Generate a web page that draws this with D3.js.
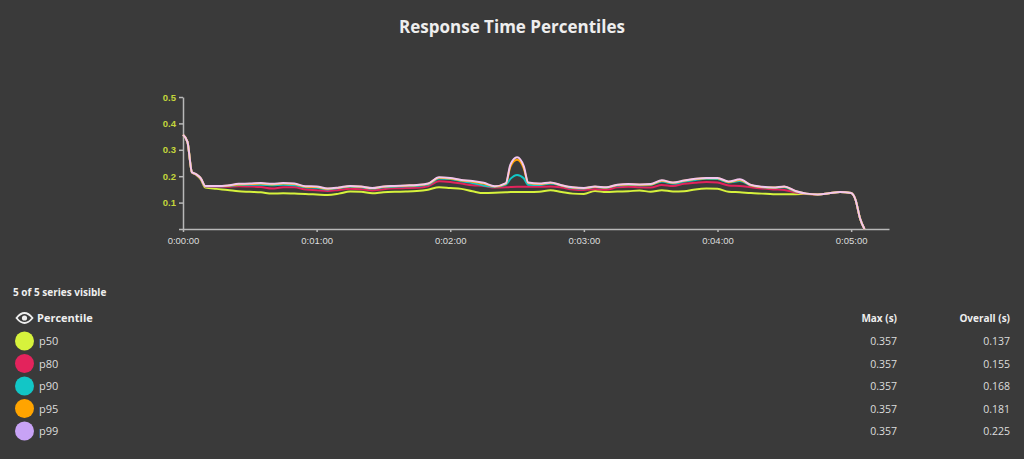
<!DOCTYPE html>
<html>
<head>
<meta charset="utf-8">
<script src="https://cdn.jsdelivr.net/npm/d3@7"></script>
<style>
  html, body { margin: 0; padding: 0; background: #3a3a3a; }
  svg { display: block; font-family: "Open Sans", "DejaVu Sans", sans-serif; }
</style>
</head>
<body>
<svg id="chart" width="1024" height="459"></svg>
<script>
// seconds since start
const times = [0, 2, 4, 6, 8, 10, 15, 20, 25, 30, 35, 40, 45, 50, 55, 60, 65, 70, 75, 80, 85, 90, 95, 100,
  105, 110, 115, 120, 125, 130, 135, 140, 145, 147, 150, 153, 155, 160, 165, 170, 175, 180, 185, 190, 195, 200,
  205, 210, 215, 220, 225, 230, 235, 240, 245, 250, 255, 260, 265, 270, 275, 280, 285, 290, 295, 300,
  302, 304, 306];

const p50 = [0.357, 0.33, 0.215, 0.205, 0.188, 0.157, 0.152, 0.148, 0.143, 0.141, 0.139, 0.134, 0.135, 0.134,
  0.133, 0.131, 0.129, 0.134, 0.142, 0.141, 0.135, 0.139, 0.141, 0.142, 0.144, 0.149, 0.158, 0.155, 0.152,
  0.143, 0.136, 0.137, 0.139, 0.140, 0.140, 0.140, 0.140, 0.141, 0.147, 0.140, 0.134, 0.133, 0.144, 0.140, 0.142, 0.143,
  0.146, 0.141, 0.147, 0.142, 0.143, 0.150, 0.153, 0.152, 0.141, 0.139, 0.136, 0.134, 0.132, 0.132, 0.132,
  0.133, 0.131, 0.135, 0.140, 0.136, 0.110, 0.040, 0.0];
const p80 = [0.357, 0.33, 0.215, 0.206, 0.191, 0.161, 0.160, 0.160, 0.162, 0.161, 0.159, 0.153, 0.158, 0.158,
  0.150, 0.147, 0.144, 0.148, 0.152, 0.151, 0.146, 0.151, 0.154, 0.155, 0.156, 0.162, 0.181, 0.178, 0.172,
  0.166, 0.163, 0.157, 0.158, 0.159, 0.160, 0.160, 0.160, 0.160, 0.161, 0.157, 0.150, 0.148, 0.151, 0.149, 0.158, 0.160,
  0.158, 0.157, 0.167, 0.163, 0.171, 0.175, 0.178, 0.176, 0.165, 0.163, 0.158, 0.153, 0.150, 0.148, 0.138,
  0.134, 0.131, 0.135, 0.140, 0.136, 0.110, 0.040, 0.0];
const p90 = [0.357, 0.33, 0.215, 0.207, 0.192, 0.162, 0.162, 0.163, 0.167, 0.168, 0.168, 0.166, 0.168, 0.166,
  0.158, 0.156, 0.150, 0.155, 0.160, 0.158, 0.153, 0.158, 0.160, 0.162, 0.163, 0.168, 0.191, 0.189, 0.181,
  0.174, 0.165, 0.160, 0.168, 0.190, 0.205, 0.192, 0.168, 0.167, 0.172, 0.164, 0.155, 0.153, 0.159, 0.156, 0.165, 0.167,
  0.166, 0.167, 0.180, 0.172, 0.180, 0.186, 0.190, 0.189, 0.176, 0.182, 0.165, 0.158, 0.156, 0.158, 0.142,
  0.134, 0.131, 0.135, 0.140, 0.136, 0.110, 0.040, 0.0];
const p95 = [0.357, 0.33, 0.215, 0.207, 0.192, 0.163, 0.163, 0.164, 0.169, 0.170, 0.172, 0.169, 0.172, 0.170,
  0.160, 0.159, 0.152, 0.156, 0.162, 0.160, 0.154, 0.160, 0.162, 0.164, 0.166, 0.171, 0.194, 0.191, 0.184,
  0.179, 0.172, 0.161, 0.172, 0.236, 0.262, 0.230, 0.174, 0.170, 0.175, 0.165, 0.157, 0.154, 0.160, 0.157, 0.167, 0.169,
  0.168, 0.169, 0.183, 0.175, 0.183, 0.189, 0.192, 0.192, 0.178, 0.186, 0.166, 0.159, 0.157, 0.160, 0.143,
  0.134, 0.131, 0.135, 0.140, 0.136, 0.110, 0.040, 0.0];
const p99 = [0.357, 0.33, 0.215, 0.207, 0.192, 0.163, 0.163, 0.165, 0.171, 0.172, 0.174, 0.171, 0.174, 0.172,
  0.162, 0.161, 0.153, 0.157, 0.163, 0.161, 0.155, 0.161, 0.163, 0.165, 0.167, 0.172, 0.196, 0.193, 0.186,
  0.182, 0.175, 0.162, 0.174, 0.244, 0.272, 0.238, 0.176, 0.172, 0.176, 0.166, 0.158, 0.155, 0.161, 0.158, 0.168, 0.170,
  0.169, 0.170, 0.185, 0.176, 0.184, 0.190, 0.193, 0.193, 0.180, 0.188, 0.167, 0.160, 0.157, 0.161, 0.144,
  0.134, 0.131, 0.135, 0.140, 0.136, 0.110, 0.040, 0.0];

const names = ['p50', 'p80', 'p90', 'p95', 'p99'];
const seriesValues = [p50, p80, p90, p95, p99];
const maxValues = ['0.357', '0.357', '0.357', '0.357', '0.357'];
const overallValues = ['0.137', '0.155', '0.168', '0.181', '0.225'];
const yTicks = [0.1, 0.2, 0.3, 0.4, 0.5];
const xTicks = [0, 60, 120, 180, 240, 300];

const swatchColors = ['#d6f23c', '#e3235c', '#12c6c6', '#ffa400', '#c8a3f6'];
const lineColors = ['#d6f23c', '#e3235c', '#12c6c6', '#ffa400', '#f3c6ee'];

const svg = d3.select('#chart');

svg.append('text')
  .attr('x', 512)
  .attr('y', 33)
  .attr('text-anchor', 'middle')
  .attr('fill', '#eeeeee')
  .attr('font-size', 17)
  .attr('font-weight', 'bold')
  .text('Response Time Percentiles');

const x = d3.scaleLinear().domain([0, 317]).range([183, 889]);
const y = d3.scaleLinear().domain([0, 0.5]).range([229, 97]);

function fmtTime(s) {
  const m = Math.floor(s / 60), sec = s % 60;
  return '0:' + String(m).padStart(2, '0') + ':' + String(sec).padStart(2, '0');
}

const xAxis = svg.append('g')
  .attr('transform', 'translate(0,229)')
  .call(d3.axisBottom(x).tickValues(xTicks).tickFormat(fmtTime).tickSize(3).tickSizeOuter(0));
xAxis.selectAll('text').attr('fill', '#dddddd').attr('font-size', 9.5).attr('dy', '0.9em');

const yAxis = svg.append('g')
  .attr('transform', 'translate(183,0)')
  .call(d3.axisLeft(y).tickValues([0].concat(yTicks)).tickFormat(d => d === 0 ? '' : d3.format('.1f')(d))
    .tickSize(4).tickSizeOuter(0));
yAxis.selectAll('text').attr('fill', '#c4d63a').attr('font-size', 9.5).attr('font-weight', 'bold');

svg.selectAll('.domain, .tick line').attr('stroke', '#b8b8b8').attr('stroke-width', 1.5);

const line = d3.line()
  .x((d, i) => x(times[i]))
  .y(d => y(d))
  .curve(d3.curveMonotoneX);

svg.append('g')
  .selectAll('path')
  .data(seriesValues)
  .enter()
  .append('path')
  .attr('d', d => line(d))
  .attr('fill', 'none')
  .attr('stroke', (d, i) => lineColors[i])
  .attr('stroke-width', 2);

// legend
svg.append('text')
  .attr('x', 13).attr('y', 296)
  .attr('fill', '#eeeeee').attr('font-size', 10).attr('font-weight', 'bold')
  .text('5 of 5 series visible');

const eye = svg.append('g').attr('transform', 'translate(24.5,318)');
eye.append('path')
  .attr('d', 'M-8,0 Q0,-10 8,0 Q0,10 -8,0 Z')
  .attr('fill', 'none').attr('stroke', '#eeeeee').attr('stroke-width', 1.8);
eye.append('circle').attr('r', 2.6).attr('fill', '#eeeeee');

svg.append('text')
  .attr('x', 37).attr('y', 322)
  .attr('fill', '#eeeeee').attr('font-size', 11).attr('font-weight', 'bold')
  .text('Percentile');
svg.append('text')
  .attr('x', 897).attr('y', 322).attr('text-anchor', 'end')
  .attr('fill', '#eeeeee').attr('font-size', 10).attr('font-weight', 'bold')
  .text('Max (s)');
svg.append('text')
  .attr('x', 1010).attr('y', 322).attr('text-anchor', 'end')
  .attr('fill', '#eeeeee').attr('font-size', 10).attr('font-weight', 'bold')
  .text('Overall (s)');

const rowY = d3.scaleLinear().domain([0, 4]).range([341, 431]);
const rows = svg.append('g')
  .selectAll('g')
  .data(names)
  .enter()
  .append('g')
  .attr('transform', (d, i) => 'translate(0,' + rowY(i) + ')');
rows.append('circle').attr('cx', 24.5).attr('cy', 0).attr('r', 9.5)
  .attr('fill', (d, i) => swatchColors[i]);
rows.append('text').attr('x', 39).attr('y', 4)
  .attr('fill', '#dddddd').attr('font-size', 11).text(d => d);
rows.append('text').attr('x', 897).attr('y', 4).attr('text-anchor', 'end')
  .attr('fill', '#dddddd').attr('font-size', 10.5).text((d, i) => maxValues[i]);
rows.append('text').attr('x', 1010).attr('y', 4).attr('text-anchor', 'end')
  .attr('fill', '#dddddd').attr('font-size', 10.5).text((d, i) => overallValues[i]);
</script>
</body>
</html>
